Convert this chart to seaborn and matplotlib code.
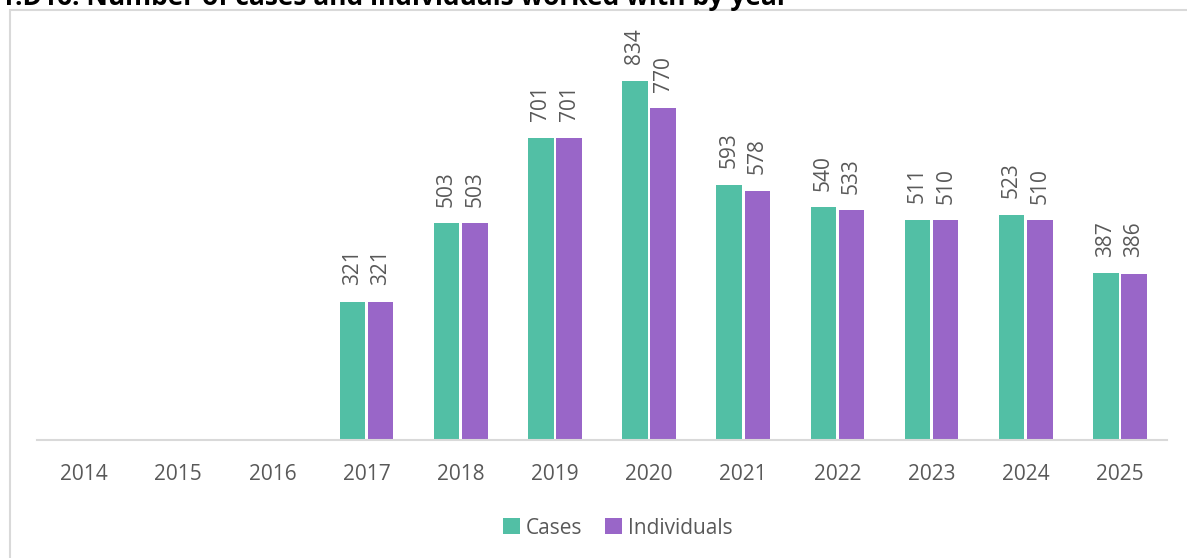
import numpy as np
import pandas as pd
import matplotlib.pyplot as plt
import seaborn as sns
from matplotlib.patches import Rectangle

years = ['2014', '2015', '2016', '2017', '2018', '2019', '2020', '2021', '2022', '2023', '2024', '2025']
cases = [np.nan, np.nan, np.nan, 321, 503, 701, 834, 593, 540, 511, 523, 387]
individuals = [np.nan, np.nan, np.nan, 321, 503, 701, 770, 578, 533, 510, 510, 386]
series_names = ['Cases', 'Individuals']
colors = ['#52BFA5', '#9966C8']
title = '1.D16. Number of cases and individuals worked with by year'

df = pd.DataFrame({'Year': years * 2,
                   'Count': cases + individuals,
                   'Series': [series_names[0]] * len(years) + [series_names[1]] * len(years)})

sns.set_theme(style='white')
plt.rcParams['font.family'] = ['Open Sans', 'DejaVu Sans']
grey = '#595959'

fig = plt.figure(figsize=(11.87, 5.58), dpi=100)
W, H = 1187, 558
ax = fig.add_axes([37 / W, 1 - 440 / H, (1167 - 37) / W, (440 - 20) / H])

sns.barplot(data=df, x='Year', y='Count', hue='Series', palette=colors,
            width=0.6, gap=0.1, order=years, hue_order=series_names, ax=ax,
            edgecolor='none', saturation=1)

for cont in ax.containers:
    ax.bar_label(cont, labels=[('' if np.isnan(v) else f'{int(v)}') for v in cont.datavalues],
                 rotation=90, padding=12, fontsize=15, color=grey)

ax.set_ylim(0, 975)
ax.set_xlim(-0.5, len(years) - 0.5)
ax.set_xlabel('')
ax.set_ylabel('')
ax.set_yticks([])
for s in ['top', 'right', 'left']:
    ax.spines[s].set_visible(False)
ax.spines['bottom'].set_color('#D9D9D9')
ax.spines['bottom'].set_linewidth(1.5)
ax.tick_params(axis='x', length=0, labelsize=15, labelcolor=grey, pad=17)

leg = ax.legend(loc='center', bbox_to_anchor=(618 / W, 1 - 528 / H),
                bbox_transform=fig.transFigure, ncol=2, frameon=False,
                fontsize=15, handlelength=0.8, handleheight=0.8,
                handletextpad=0.3, columnspacing=1.1, labelcolor=grey)

# chart frame
fig.patches.append(Rectangle((10 / W, -0.1), 1.1, 1 - 10 / H + 0.1, transform=fig.transFigure,
                             fill=False, edgecolor='#D9D9D9', linewidth=1.5))
fig.text(0.0, 1 - 5 / H, title, fontsize=19, fontweight='bold', color='black',
         ha='left', va='baseline')

fig.savefig('out.png', dpi=100)
